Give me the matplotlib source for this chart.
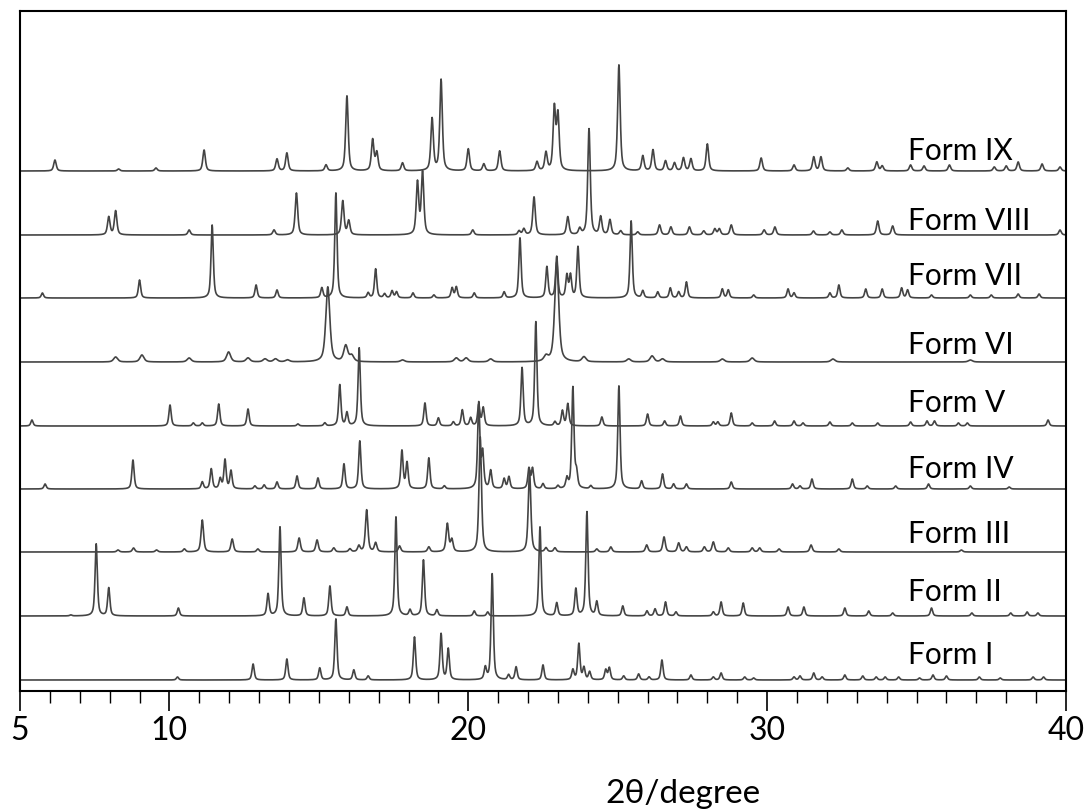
import numpy as np
import matplotlib
matplotlib.use('Agg')
import matplotlib.pyplot as plt
from matplotlib.ticker import FixedLocator, MultipleLocator

plt.rcParams['font.family'] = ['Lato', 'DejaVu Sans']

# peak lists: (2theta, intensity) for each form
form_1 = [(10.27, 3), (12.8, 16), (13.93, 21), (15.03, 12), (15.57, 61), (16.17, 10), (16.65, 4),
          (18.2, 43), (19.09, 46), (19.33, 31), (20.57, 12), (20.8, 106), (21.35, 5), (21.6, 13),
          (22.5, 15), (23.5, 10), (23.7, 36), (23.87, 12), (24.06, 8), (24.6, 10), (24.72, 12),
          (25.2, 4), (25.7, 6), (26.05, 3), (26.48, 20), (27.45, 5), (28.2, 3), (28.46, 7),
          (29.25, 3), (29.55, 2), (30.9, 3), (31.1, 4), (31.56, 7), (31.84, 3), (32.6, 5),
          (33.2, 4), (33.65, 3), (33.95, 3), (34.4, 3), (35.1, 2), (35.55, 5), (36.0, 4),
          (37.1, 3), (37.8, 2), (38.9, 3), (39.25, 3)]
form_2 = [(6.7, 1), (7.55, 72), (7.97, 28), (10.3, 8), (13.3, 22), (13.7, 89), (14.5, 18),
          (15.37, 30), (15.94, 9), (17.58, 99), (18.05, 6), (18.5, 56), (18.95, 6), (20.2, 5),
          (20.65, 4), (22.4, 89), (22.96, 13), (23.6, 27), (23.97, 104), (24.3, 14), (25.17, 10),
          (25.98, 5), (26.25, 7), (26.6, 14), (26.95, 4), (28.2, 4), (28.46, 14), (29.2, 13),
          (30.7, 9), (31.23, 9), (32.6, 8), (33.4, 5), (34.2, 3), (35.5, 8), (36.85, 3),
          (38.15, 3), (38.7, 4), (39.06, 3)]
form_3 = [(8.28, 2), (8.8, 4), (9.57, 2), (10.5, 3), (11.1, 32), (12.1, 13), (12.96, 3),
          (14.34, 14), (14.94, 12), (15.5, 4), (16.04, 3), (16.34, 6), (16.6, 42), (16.9, 9),
          (17.7, 6), (18.68, 5), (19.3, 28), (19.45, 12), (20.4, 115), (22.05, 82), (22.6, 4),
          (22.9, 4), (24.3, 3), (24.77, 5), (25.97, 7), (26.55, 15), (27.04, 9), (27.3, 5),
          (27.9, 5), (28.2, 10), (28.7, 4), (29.5, 4), (29.75, 4), (30.4, 3), (31.47, 7),
          (32.4, 3), (36.5, 2)]
form_4 = [(5.84, 5), (8.78, 29), (11.1, 7), (11.4, 20), (11.7, 10), (11.86, 29), (12.06, 18),
          (12.86, 3), (13.17, 4), (13.6, 7), (14.27, 13), (14.97, 11), (15.84, 25), (16.37, 48),
          (17.78, 38), (17.95, 26), (18.68, 31), (19.2, 3), (20.35, 85), (20.48, 35), (20.75, 18),
          (21.2, 10), (21.36, 12), (22.03, 20), (22.15, 20), (22.5, 5), (23.0, 3), (23.3, 10),
          (23.5, 101), (23.62, 15), (24.1, 3), (25.04, 103), (25.8, 8), (26.5, 15), (26.87, 5),
          (27.3, 5), (28.8, 7), (30.85, 5), (31.1, 3), (31.5, 10), (32.85, 10), (33.35, 3),
          (34.3, 3), (35.4, 5), (36.8, 3), (38.1, 2)]
form_5 = [(5.4, 6), (10.02, 21), (10.8, 3), (11.1, 3), (11.65, 22), (12.63, 17), (14.3, 2),
          (15.2, 3), (15.7, 41), (15.94, 13), (16.35, 78), (18.55, 23), (19.0, 8), (19.5, 4),
          (19.8, 16), (20.08, 8), (20.35, 21), (20.5, 18), (21.8, 58), (22.26, 104), (22.9, 4),
          (23.15, 15), (23.33, 22), (24.47, 9), (26.0, 12), (26.57, 5), (27.1, 10), (28.2, 4),
          (28.35, 4), (28.8, 13), (29.5, 3), (30.25, 5), (30.9, 5), (31.2, 3), (32.1, 4),
          (32.85, 3), (33.7, 3), (34.8, 4), (35.35, 5), (35.6, 5), (36.4, 3), (36.7, 3), (39.4, 6)]
form_6 = [(8.2, 5), (9.08, 7), (10.66, 4), (11.98, 10), (12.63, 4), (13.2, 3), (13.55, 3),
          (13.95, 2), (15.3, 75), (15.9, 16), (16.1, 6), (17.8, 2), (19.6, 4), (19.93, 4),
          (20.75, 3), (22.6, 5), (22.96, 100), (23.87, 5), (25.37, 3), (26.15, 6), (26.5, 3),
          (28.5, 3), (29.5, 4), (32.2, 3), (36.8, 2)]
form_7 = [(5.75, 5), (9.0, 18), (11.43, 73), (12.9, 13), (13.6, 8), (15.1, 10), (15.57, 105),
          (16.65, 5), (16.9, 29), (17.2, 4), (17.45, 7), (17.6, 6), (18.15, 5), (18.85, 3),
          (19.46, 10), (19.6, 11), (20.2, 5), (21.2, 6), (21.73, 60), (22.63, 31), (22.96, 41),
          (23.3, 22), (23.42, 22), (23.67, 51), (25.45, 77), (25.84, 7), (26.34, 6), (26.76, 10),
          (27.04, 6), (27.3, 16), (28.5, 9), (28.7, 8), (29.55, 3), (30.7, 9), (30.9, 5),
          (32.1, 5), (32.4, 13), (33.3, 9), (33.85, 9), (34.5, 10), (34.7, 8), (35.5, 3),
          (36.8, 3), (37.5, 3), (38.4, 4), (39.1, 4)]
form_8 = [(7.97, 18), (8.2, 24), (10.66, 5), (13.5, 5), (14.25, 42), (15.8, 34), (16.0, 14),
          (18.3, 52), (18.47, 62), (20.15, 5), (21.7, 4), (21.86, 6), (22.2, 38), (23.33, 18),
          (23.73, 6), (24.04, 106), (24.43, 18), (24.74, 15), (25.1, 4), (25.67, 3), (26.4, 10),
          (26.78, 8), (27.4, 8), (27.88, 4), (28.25, 6), (28.4, 6), (28.8, 10), (29.9, 5),
          (30.26, 8), (31.55, 4), (32.1, 3), (32.5, 5), (33.7, 14), (34.2, 9), (39.8, 5)]
form_9 = [(6.17, 11), (8.3, 2), (9.55, 3), (11.16, 21), (13.6, 12), (13.93, 18), (15.24, 6),
          (15.94, 75), (16.8, 31), (16.94, 18), (17.8, 8), (18.79, 52), (19.09, 91), (20.0, 22),
          (20.52, 7), (21.05, 20), (22.3, 9), (22.6, 18), (22.88, 62), (23.0, 55), (25.04, 106),
          (25.84, 15), (26.18, 21), (26.6, 10), (26.9, 8), (27.2, 13), (27.45, 12), (28.0, 27),
          (29.8, 13), (30.9, 6), (31.56, 14), (31.8, 14), (32.7, 3), (33.67, 9), (33.85, 5),
          (34.8, 6), (35.25, 5), (36.1, 6), (37.6, 4), (38.0, 5), (38.4, 9), (39.2, 7), (39.8, 4)]

patterns = [form_1, form_2, form_3, form_4, form_5, form_6, form_7, form_8, form_9]
names = ['Form I', 'Form II', 'Form III', 'Form IV', 'Form V',
         'Form VI', 'Form VII', 'Form VIII', 'Form IX']
offsets = [11, 75, 139, 202, 265, 329, 393, 456, 520]
label_y = [28, 91, 149, 214, 280, 338, 407, 462, 532]
widths = [0.09, 0.09, 0.10, 0.09, 0.09, 0.16, 0.09, 0.10, 0.10]


def profile(x, peaks, w):
    # pseudo-Voigt line shape for every reflection
    y = np.zeros_like(x)
    for pos, h in peaks:
        d = (x - pos) / (w / 2)
        y += h * (0.6 / (1 + d ** 2) + 0.4 * np.exp(-np.log(2) * d ** 2))
    return y


two_theta = np.arange(5.0, 40.0, 0.01)

fig = plt.figure(figsize=(10.86, 8.12), dpi=100)
ax = fig.add_axes([20 / 1086, 120 / 812, 1046 / 1086, 680 / 812])

for peaks, name, off, ly, w in zip(patterns, names, offsets, label_y, widths):
    ax.plot(two_theta, off + profile(two_theta, peaks, w), color='#444444', lw=1.2)
    ax.text(34.7, ly, name, fontsize=21.5, va='baseline', ha='left', color='black')

ax.set_xlim(5, 40)
ax.set_ylim(0, 680)
ax.xaxis.set_major_locator(FixedLocator([5, 10, 20, 30, 40]))
ax.xaxis.set_minor_locator(MultipleLocator(1))
ax.tick_params(axis='x', which='major', direction='out', length=14.4, width=1.2,
               labelsize=23, pad=3)
ax.tick_params(axis='x', which='minor', direction='out', length=8.6, width=1.0)
ax.set_yticks([])
for s in ax.spines.values():
    s.set_linewidth(1.5)

ax.set_xlabel('2θ/degree', fontsize=24)
ax.xaxis.set_label_coords(0.634, -0.163)
ax.xaxis.label.set_va('baseline')

fig.savefig('out.png', dpi=100)
